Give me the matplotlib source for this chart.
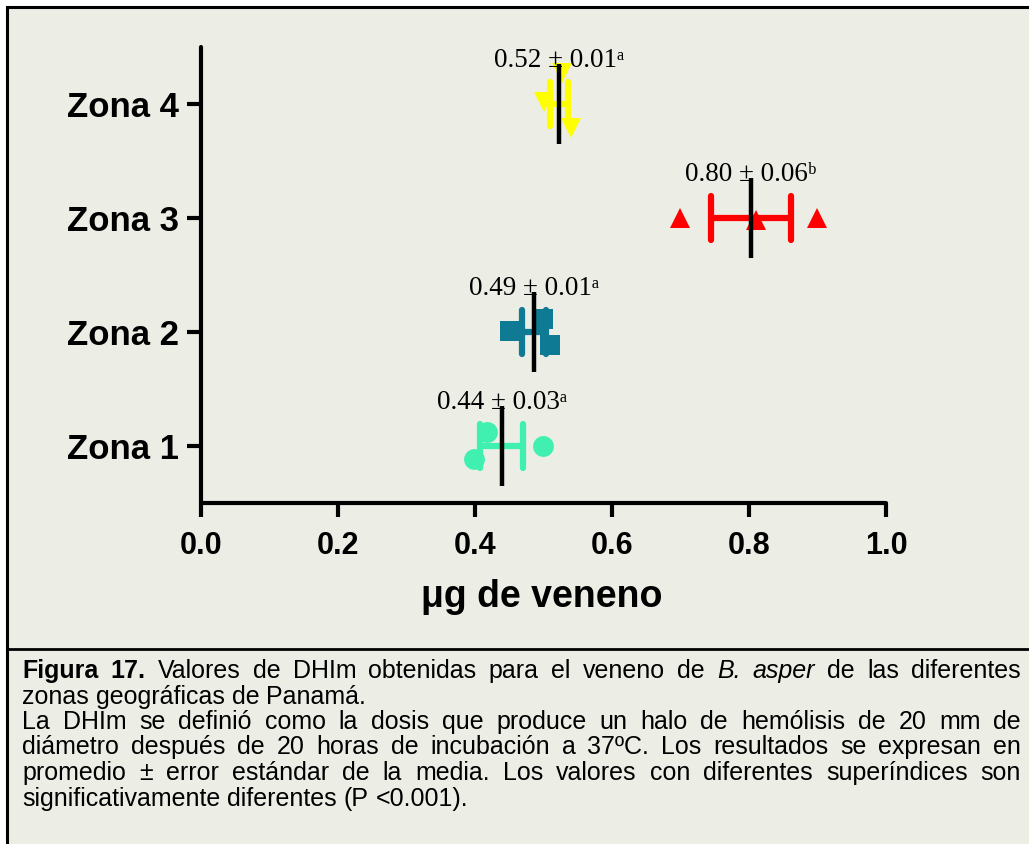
import matplotlib
matplotlib.use("Agg")
import matplotlib.pyplot as plt
from matplotlib.patches import Rectangle
from matplotlib.lines import Line2D

# ---------------- data ----------------
zones = ["Zona 1", "Zona 2", "Zona 3", "Zona 4"]
zona1 = [0.399, 0.418, 0.499]
zona2 = [0.451, 0.499, 0.509]
zona3 = [0.699, 0.810, 0.899]
zona4 = [0.501, 0.527, 0.540]
means = [0.439, 0.486, 0.803, 0.523]
sems = [0.031, 0.017, 0.058, 0.013]
labels = ["0.44 ± 0.03ᵃ", "0.49 ± 0.01ᵃ", "0.80 ± 0.06ᵇ", "0.52 ± 0.01ᵃ"]
x_ticks = [0.0, 0.2, 0.4, 0.6, 0.8, 1.0]
x_label = "μg de veneno"

# scatter layout (vertical spread of points within each zone row)
spread1 = [-0.11, 0.12, 0.0]
spread2 = [0.01, 0.11, -0.11]
spread3 = [0.0, -0.02, 0.0]
spread4 = [0.02, 0.27, -0.21]

colors = ["#40F0B0", "#0E7A94", "#FF0000", "#FFFF00"]
markers = ["o", "s", "^", "v"]
BG = "#ECEEE6"

W, H = 1029, 844
fig = plt.figure(figsize=(W / 100, H / 100), dpi=100)
fig.patch.set_facecolor("white")

# frame / background
bg = Rectangle((7 / W, -0.05), 1.1, 1 - 7 / H + 0.05,
               transform=fig.transFigure, facecolor=BG,
               edgecolor="black", linewidth=2.2, zorder=-10)
fig.patches.append(bg)
fig.lines.append(Line2D([7 / W, 1.0], [1 - 649 / H, 1 - 649 / H],
                        transform=fig.transFigure, color="black",
                        linewidth=2.0, zorder=-5))

ax = fig.add_axes([201 / W, 1 - 503 / H, 685 / W, 456 / H], zorder=1)
ax.set_facecolor("none")
ax.set_xlim(0, 1.0)
ax.set_ylim(0.5, 4.5)
for s in ["top", "right"]:
    ax.spines[s].set_visible(False)
for s in ["left", "bottom"]:
    ax.spines[s].set_linewidth(3)
    ax.spines[s].set_capstyle("round")

ax.set_xticks(x_ticks)
ax.set_xticklabels([f"{v:.1f}" for v in x_ticks], fontsize=22, fontweight="bold",
                   family="Liberation Sans")
ax.set_yticks([1, 2, 3, 4])
ax.set_yticklabels(zones, fontsize=25, fontweight="bold", family="Liberation Sans")
ax.tick_params(axis="x", direction="out", length=10, width=3, pad=10)
ax.tick_params(axis="y", direction="out", length=10, width=3, pad=6)

series = [zona1, zona2, zona3, zona4]
spreads = [spread1, spread2, spread3, spread4]
for i, (vals, sp) in enumerate(zip(series, spreads)):
    yc = i + 1
    ax.plot(vals, [yc + d for d in sp], linestyle="none", marker=markers[i],
            markersize=15, color=colors[i], markeredgewidth=0, zorder=3,
            clip_on=False)
    m, e = means[i], sems[i]
    ax.plot([m - e, m + e], [yc, yc], color=colors[i], linewidth=4.5,
            solid_capstyle="butt", zorder=4)
    for xe in (m - e, m + e):
        ax.plot([xe, xe], [yc - 0.19, yc + 0.19], color=colors[i], linewidth=4.5,
                solid_capstyle="round", zorder=4)
    ax.plot([m, m], [yc - 0.35, yc + 0.35], color="black", linewidth=3.2,
            solid_capstyle="butt", zorder=5)
    ax.text(m, yc + 0.385, labels[i], ha="center", va="center", fontsize=19.5,
            family=["Liberation Serif", "DejaVu Serif"], zorder=6)

fig.text(542 / W, 1 - 607 / H, x_label, ha="center", va="baseline", fontsize=27,
         fontweight="bold", family="Liberation Sans")

# ---------------- caption (justified) ----------------
cap_lines = [
    ([("Figura 17.", "bold", "normal"),
      ("Valores de DHIm obtenidas para el veneno de", "normal", "normal"),
      ("B. asper", "normal", "italic"),
      ("de las diferentes", "normal", "normal")], True),
    ([("zonas geográficas de Panamá.", "normal", "normal")], False),
    ([("La DHIm se definió como la dosis que produce un halo de hemólisis de 20 mm de",
       "normal", "normal")], True),
    ([("diámetro después de 20 horas de incubación a 37ºC. Los resultados se expresan en",
       "normal", "normal")], True),
    ([("promedio ± error estándar de la media. Los valores con diferentes superíndices son",
       "normal", "normal")], True),
    ([("significativamente diferentes (P <0.001).", "normal", "normal")], False),
]
cap_fs = 18
left_px, right_px = 22, 1021
baselines = [678, 703.5, 729, 754.5, 780, 805.5]

renderer = fig.canvas.get_renderer()
space_w = 0.278 * cap_fs * 100 / 72
for (segs, justify), bl in zip(cap_lines, baselines):
    words = []
    for txt, wgt, sty in segs:
        for word in txt.split():
            t = fig.text(0, 0, word, fontsize=cap_fs, fontweight=wgt, fontstyle=sty,
                         family="Liberation Sans", ha="left", va="baseline")
            words.append((t, t.get_window_extent(renderer).width))
    total = sum(w for _, w in words)
    gap = (right_px - left_px - total) / (len(words) - 1) if justify else space_w
    x = left_px
    for t, w in words:
        t.set_position((x / W, 1 - round(bl) / H))
        x += w + gap

fig.savefig("out.png", dpi=100, facecolor=fig.get_facecolor())
